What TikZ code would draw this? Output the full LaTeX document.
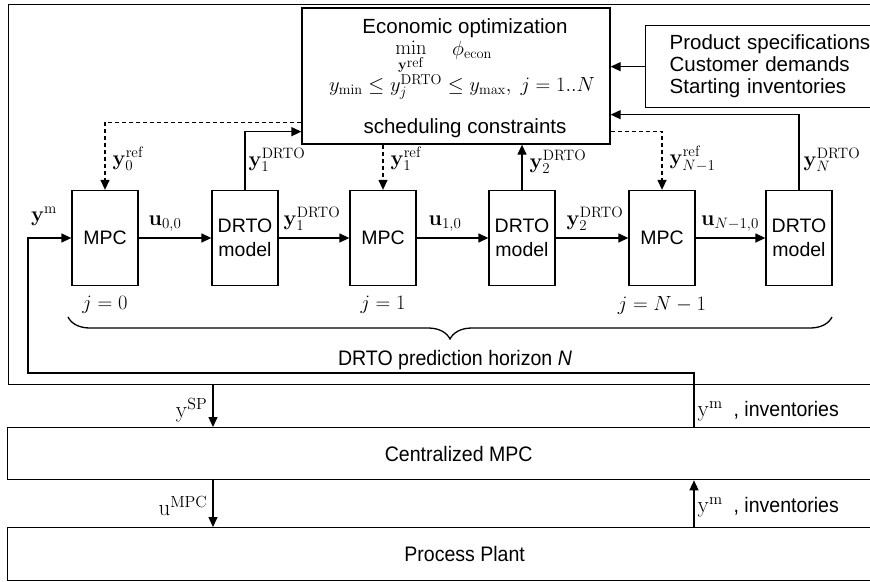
\RequirePackage{fix-cm}
\documentclass[tikz,border=0pt]{standalone}
\usepackage{amsmath}
\usepackage[no-math]{fontspec}
\setmainfont{Liberation Sans}
\newfontfamily\narrowsf[FakeStretch=0.93]{Liberation Sans}
\usetikzlibrary{arrows.meta,calc,decorations.pathreplacing}

\begin{document}
\begin{tikzpicture}[x=1pt, y=-1pt, line join=miter, >={Triangle[length=10pt,width=9pt]}, line width=1.3pt, font=\fontsize{20.5}{22}\selectfont]
	\tikzset{blk/.style={draw, inner sep=0pt, minimum width=66pt, minimum height=95pt, align=center, font=\fontsize{19.5}{24}\selectfont},
		dsh/.style={dash pattern=on 4pt off 3pt},
		lbl/.style={inner sep=0pt, font=\fontsize{21.5}{22}\selectfont},
		layer/.style={draw, anchor=north west, inner sep=0pt, font=\narrowsf\fontsize{21}{22}\selectfont}}
	\useasboundingbox (0,0) rectangle (870,581);
	% DRTO layer
	\node[draw, anchor=north west, minimum width=880pt, minimum height=380pt] (dlayer) at (8,4) {};
	\node[draw, minimum width=308pt, minimum height=136pt] (econ) at (456,76) {};
	\node (ectitle) at (465,28) {Economic optimization};
	\node[anchor=north, inner sep=0pt] (ecmin) at (411,40) {$\displaystyle\min_{\mathbf{y}\raisebox{1.5pt}{$\scriptstyle\mathrm{ref}$}}$};
	\node (ecphi) at (472,50) {$\phi_{\mathrm{econ}}$};
	\node (eccon) at (462,87) {$y_{\min}\le y_j^{\mathrm{DRTO}}\le y_{\max},\ j=1..N$};
	\node (ecsched) at (465,128) {scheduling constraints};
	\node[draw, anchor=north west, minimum height=82pt, text width=400pt, inner xsep=24pt, align=left] (prod) at (645,25) {Product specifications\\Customer demands\\Starting inventories};
	\draw[->] (prod.west) -- (prod.west -| econ.east);
	% horizon blocks
	\foreach \n/\x in {0/105,1/383,2/662}
		\node[blk] (mpc\n) at (\x,238) {MPC};
	\foreach \n/\x in {0/245,1/522,2/799}
		\node[blk] (drto\n) at (\x,238) {DRTO\\model};
	\draw[->] (mpc0) -- (drto0);
	\draw[->] (drto0) -- (mpc1);
	\draw[->] (mpc1) -- (drto1);
	\draw[->] (drto1) -- (mpc2);
	\draw[->] (mpc2) -- (drto2);
	\draw[->, dsh] ([yshift=22pt]econ.south west) -| (mpc0.north);
	\draw[->] (drto0.north) |- ([yshift=13pt]econ.south west);
	\draw[->, dsh] (econ.south -| mpc1.north) -- (mpc1.north);
	\draw[->] (drto1.north) -- (drto1.north |- econ.south);
	\draw[->, dsh] ([yshift=13pt]econ.south east) -| (mpc2.north);
	\draw[->] (drto2.north) |- ([yshift=30pt]econ.south east);
	\node[lbl, anchor=west] (lref0) at (112,159) {$\mathbf{y}_0^{\mathrm{ref}}$};
	\node[lbl, anchor=west] (lup1) at (248,160) {$\mathbf{y}_1^{\mathrm{DRTO}}$};
	\node[lbl, anchor=west] (lref1) at (390,159) {$\mathbf{y}_1^{\mathrm{ref}}$};
	\node[lbl, anchor=west] (lup2) at (529,162) {$\mathbf{y}_2^{\mathrm{DRTO}}$};
	\node[lbl, anchor=west] (lref2) at (669,159) {$\mathbf{y}_{N-1}^{\mathrm{ref}}$};
	\node[lbl, anchor=west] (lupN) at (803,160) {$\mathbf{y}_N^{\mathrm{DRTO}}$};
	\node[lbl] (lym) at (44,216) {$\mathbf{y}^{\mathrm{m}}$};
	\node[lbl] (lu0) at (165,224) {$\mathbf{u}_{0,0}$};
	\node[lbl] (ly1) at (312,219) {$\mathbf{y}_1^{\mathrm{DRTO}}$};
	\node[lbl] (lu1) at (445,224) {$\mathbf{u}_{1,0}$};
	\node[lbl] (ly2) at (595,219) {$\mathbf{y}_2^{\mathrm{DRTO}}$};
	\node[lbl] (lu2) at (730,224) {$\mathbf{u}_{N-1,0}$};
	\node (j0) at (105,305) {$j=0$};
	\node (j1) at (383,305) {$j=1$};
	\node (j2) at (662,305) {$j=N-1$};
	\draw[decorate, decoration={brace, amplitude=22pt, mirror}] (68,317) -- (832,317);
	\node[font=\narrowsf\fontsize{21}{22}\selectfont] (horizon) at (455,360) {DRTO prediction horizon \textit{N}};
	% lower layers
	\node[layer, minimum width=902pt, minimum height=52pt] (cmpc) at (7,427) {Centralized MPC};
	\node[layer, minimum width=914pt, minimum height=53pt] (plant) at (7,527) {Process Plant};
	\draw[->] (694,0 |- cmpc.north) |- (28,373) |- (mpc0.west);
	\draw[->] (213,0 |- dlayer.south) -- (213,0 |- cmpc.north);
	\draw[->] (213,0 |- cmpc.south) -- (213,0 |- plant.north);
	\draw[->] (694,0 |- plant.north) -- (694,0 |- cmpc.south);
	\node[lbl, anchor=east, font=\fontsize{23}{24}\selectfont] (lsp) at (208,410) {$\mathrm{y}^{\mathrm{SP}}$};
	\node[lbl, anchor=east, font=\fontsize{23}{24}\selectfont] (lmpc) at (208,506) {$\mathrm{u}^{\mathrm{MPC}}$};
	\node[lbl, anchor=west, font=\narrowsf\fontsize{21}{22}\selectfont] (lymt) at (697,411) {{\fontsize{23}{24}\selectfont$\mathrm{y}^{\mathrm{m}}$}\ \ , inventories};
	\node[lbl, anchor=west, font=\narrowsf\fontsize{21}{22}\selectfont] (lymb) at (697,507) {{\fontsize{23}{24}\selectfont$\mathrm{y}^{\mathrm{m}}$}\ \ , inventories};
\end{tikzpicture}
\end{document}
